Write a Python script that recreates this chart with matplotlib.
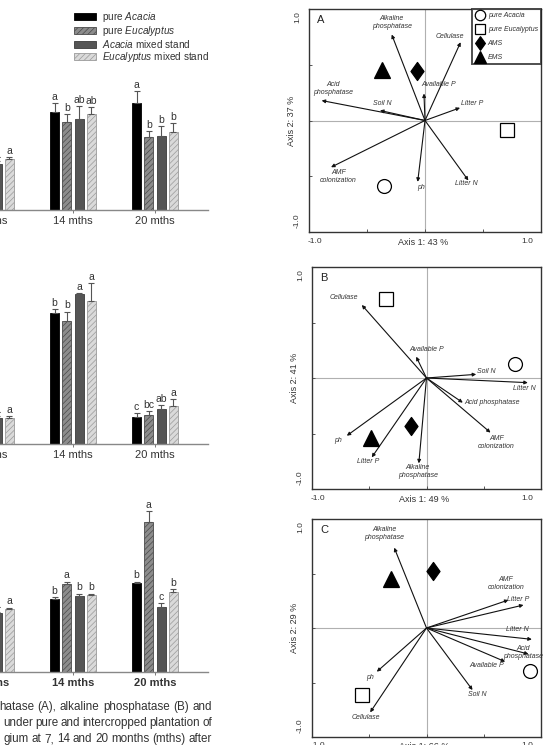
import matplotlib
matplotlib.use("Agg")
import matplotlib.pyplot as plt
import numpy as np
from matplotlib.lines import Line2D
from matplotlib.path import Path

plt.rcParams['font.family'] = ['Liberation Sans', 'DejaVu Sans']
plt.rcParams['mathtext.fontset'] = 'custom'
plt.rcParams['mathtext.rm'] = 'Liberation Sans'
plt.rcParams['mathtext.it'] = 'Liberation Sans:italic'
plt.rcParams['hatch.linewidth'] = 0.5

W, H = 543, 745
fig = plt.figure(figsize=(W / 100, H / 100), dpi=100)

# ---------------- bar chart data ----------------
groups = ['7 mths', '14 mths', '20 mths']
series = [r'pure $\mathit{Acacia}$', r'pure $\mathit{Eucalyptus}$',
          r'$\mathit{Acacia}$ mixed stand', r'$\mathit{Eucalyptus}$ mixed stand']

# panel A (acid phosphatase) - rows: groups, cols: series
acid_vals = [[48, 44, 46, 51], [98, 88, 91, 96], [107, 73, 74, 78]]
acid_err = [[3, 3, 3, 2], [9, 8, 13, 7], [12, 6, 10, 9]]
acid_let = [['a', 'a', 'a', 'a'], ['a', 'b', 'ab', 'ab'], ['a', 'b', 'b', 'b']]

# panel B (alkaline phosphatase)
alk_vals = [[27, 27, 26, 26], [131, 123, 150, 143], [27, 29, 35, 38]]
alk_err = [[2, 2, 2, 2], [4, 9, 1, 18], [4, 4, 4, 7]]
alk_let = [['a', 'a', 'a', 'a'], ['b', 'b', 'a', 'a'], ['c', 'bc', 'ab', 'a']]

# panel C (cellulase)
cel_vals = [[60, 62, 59, 63], [73, 88, 76, 77], [89, 150, 65, 80]]
cel_err = [[1, 1, 1, 1], [2, 2, 2, 1], [1, 11, 4, 3]]
cel_let = [['a', 'a', 'a', 'a'], ['b', 'a', 'b', 'b'], ['b', 'a', 'c', 'b']]

face = ['#000000', '#8c8c8c', '#555555', '#dadada']
edge = ['#000000', '#4a4a4a', '#3a3a3a', '#9a9a9a']
hatch = [None, '//////', None, '//////']

def bar_panel(rect, vals, errs, lets, ymax, bold=False):
    ax = fig.add_axes(rect)
    vals = np.array(vals, float)
    errs = np.array(errs, float)
    x = np.arange(len(groups))
    off = 0.15
    bw = 0.11
    handles = []
    for j in range(4):
        pos = x + (j - 1.5) * off
        b = ax.bar(pos, vals[:, j], bw, color=face[j], edgecolor=edge[j],
                   hatch=hatch[j], linewidth=0.6, label=series[j], zorder=2)
        handles.append(b)
        ax.errorbar(pos, vals[:, j], yerr=[np.zeros(len(x)), errs[:, j]],
                    fmt='none', ecolor='#555555', elinewidth=0.8, capsize=2.5,
                    capthick=0.8, zorder=3)
        for i in range(len(x)):
            ax.text(pos[i], vals[i, j] + errs[i, j] + 1.5, lets[i][j],
                    ha='center', va='bottom', fontsize=7.5, color='#333333')
    ax.set_xlim(-0.646, 2.646)
    ax.set_ylim(0, ymax)
    for s in ['left', 'right', 'top']:
        ax.spines[s].set_visible(False)
    ax.spines['bottom'].set_color('#888888')
    ax.spines['bottom'].set_linewidth(1.0)
    ax.set_yticks([])
    ax.set_xticks(x)
    ax.set_xticklabels(groups, fontsize=8, color='#333333',
                       fontweight='bold' if bold else 'normal')
    ax.tick_params(axis='x', length=2.5, width=0.7, color='#777777', pad=2)
    ax.patch.set_alpha(0)
    return ax, handles

axA, hA = bar_panel([-62 / W, 1 - 210 / H, 270 / W, 140 / H], acid_vals, acid_err, acid_let, 140)
axB, _ = bar_panel([-62 / W, 1 - 444 / H, 270 / W, 174 / H], alk_vals, alk_err, alk_let, 174)
axC, _ = bar_panel([-62 / W, 1 - 672 / H, 270 / W, 172 / H], cel_vals, cel_err, cel_let, 172, bold=True)

fig.legend(handles=hA, labels=series, loc='upper left',
           bbox_to_anchor=(74 / W, 1 - 10 / H), frameon=False, fontsize=7.2,
           handlelength=2.2, handleheight=0.65, labelspacing=0.0,
           handletextpad=0.6, borderaxespad=0, borderpad=0,
           labelcolor='#333333')

# ---------------- caption (justified) ----------------
caption = ['hatase (A), alkaline phosphatase (B) and',
           'under pure and intercropped plantation of',
           'gium at 7, 14 and 20 months (mths) after']
cap_y = [707, 723, 739]
cap_x0 = [-1, 3, 3]
cap_x1 = 212
renderer = fig.canvas.get_renderer()
for line, yy, x0 in zip(caption, cap_y, cap_x0):
    words = line.split(' ')
    texts = [fig.text(0, 1 - yy / H, w, va='center', ha='left', fontsize=8.4,
                      color='#333333',
                      family=['Liberation Sans Narrow', 'Liberation Sans'])
             for w in words]
    widths = [t.get_window_extent(renderer).width for t in texts]
    gap = max((cap_x1 - x0 - sum(widths)) / (len(words) - 1), 2.0)
    xx = x0
    for t, w in zip(texts, widths):
        t.set_x(xx / W)
        xx += w + gap

# ---------------- biplots ----------------
diamond = Path([(0, 1), (0.72, 0), (0, -1), (-0.72, 0), (0, 1)],
               [Path.MOVETO, Path.LINETO, Path.LINETO, Path.LINETO, Path.CLOSEPOLY])

site_names = ['pure Acacia', 'pure Eucalyptus', 'AMS', 'EMS']
site_markers = ['o', 's', diamond, '^']
site_face = ['white', 'white', 'black', 'black']
site_ms = [10, 10, 13, 12]

varsA = ['Alkaline\nphosphatase', 'Cellulase', 'Available P', 'Acid\nphosphatase', 'Soil N',
         'Litter P', 'AMF\ncolonization', 'ph', 'Litter N']
arrA_x = [-0.287, 0.307, -0.009, -0.891, -0.388, 0.302, -0.81, -0.063, 0.374]
arrA_y = [0.771, 0.702, 0.242, 0.179, 0.09, 0.114, -0.419, -0.55, -0.538]
labA_x = [-0.287, 0.21, 0.12, -0.79, -0.365, 0.41, -0.747, -0.034, 0.36]
labA_y = [0.882, 0.75, 0.32, 0.284, 0.152, 0.152, -0.5, -0.598, -0.568]
siteA_x = [-0.353, 0.704, -0.072, -0.368]
siteA_y = [-0.589, -0.087, 0.448, 0.457]

varsB = ['Cellulase', 'Available P', 'Soil N', 'Litter N', 'Acid phosphatase',
         'AMF\ncolonization', 'ph', 'Litter P', 'Alkaline\nphosphatase']
arrB_x = [-0.565, -0.09, 0.434, 0.885, 0.317, 0.559, -0.696, -0.478, -0.067]
arrB_y = [0.658, 0.192, 0.033, -0.042, -0.222, -0.492, -0.52, -0.715, -0.769]
labB_x = [-0.725, -0.003, 0.521, 0.856, 0.574, 0.609, -0.775, -0.512, -0.076]
labB_y = [0.723, 0.261, 0.057, -0.093, -0.222, -0.583, -0.559, -0.754, -0.838]
siteB_x = [0.777, -0.352, -0.134, -0.483]
siteB_y = [0.126, 0.709, -0.432, -0.543]

varsC = ['Alkaline\nphosphatase', 'AMF\ncolonization', 'Litter P', 'Litter N',
         'Acid\nphosphatase', 'Available P', 'Soil N', 'ph', 'Cellulase']
arrC_x = [-0.282, 0.716, 0.847, 0.92, 0.891, 0.687, 0.402, -0.434, -0.492]
arrC_y = [0.737, 0.257, 0.211, -0.104, -0.239, -0.309, -0.569, -0.401, -0.774]
labC_x = [-0.367, 0.696, 0.803, 0.797, 0.847, 0.527, 0.44, -0.492, -0.527]
labC_y = [0.869, 0.41, 0.266, -0.012, -0.226, -0.346, -0.608, -0.456, -0.82]
siteC_x = [0.906, -0.565, 0.055, -0.312]
siteC_y = [-0.394, -0.615, 0.523, 0.447]


def biplot(rect, letter, ax1, ax2, names, ax_, ay_, lx, ly, sx, sy, legend=False):
    ax = fig.add_axes(rect)
    ax.set_xlim(-1, 1)
    ax.set_ylim(-1, 1)
    ax.axhline(0, color='#b0b0b0', lw=0.8, zorder=1)
    ax.axvline(0, color='#b0b0b0', lw=0.8, zorder=1)
    for n, x, y, tx, ty in zip(names, ax_, ay_, lx, ly):
        ax.annotate('', xy=(x, y), xytext=(0, 0),
                    arrowprops=dict(arrowstyle='-|>', lw=0.8, color='#111111',
                                    mutation_scale=5, shrinkA=0, shrinkB=0), zorder=3)
        ax.text(tx, ty, n, ha='center', va='center', fontsize=5, style='italic',
                color='#333333', linespacing=1.2, zorder=4)
    for i in range(4):
        ax.plot(sx[i], sy[i], linestyle='none', marker=site_markers[i],
                ms=site_ms[i], mfc=site_face[i], mec='black', mew=0.9, zorder=5)
    for s in ax.spines.values():
        s.set_color('#333333')
        s.set_linewidth(1.0)
    ax.set_xticks([-1, -0.5, 0, 0.5, 1])
    ax.set_yticks([-1, -0.5, 0, 0.5, 1])
    ax.set_xticklabels([])
    ax.set_yticklabels([])
    ax.tick_params(direction='in', length=2.5, width=0.7, color='#555555')
    ax.text(-0.95, -1.05, '-1.0', ha='center', va='top', fontsize=6, color='#333333')
    ax.text(0.88, -1.05, '1.0', ha='center', va='top', fontsize=6, color='#333333')
    ax.text(-0.02, -1.05, ax1, ha='center', va='top', fontsize=6.5, color='#333333')
    ax.text(-1.07, 0.93, '1.0', ha='right', va='center', rotation=90, fontsize=6, color='#333333')
    ax.text(-1.07, -0.9, '-1.0', ha='right', va='center', rotation=90, fontsize=6, color='#333333')
    ax.text(-1.11, 0.0, ax2, ha='right', va='center', rotation=90, fontsize=6.5, color='#333333')
    ax.text(-0.93, 0.9, letter, ha='left', va='center', fontsize=8, color='#222222')
    if legend:
        hs = [Line2D([], [], linestyle='none', marker=site_markers[i], ms=site_ms[i] * 0.75,
                     mfc=site_face[i], mec='black', mew=0.9) for i in range(4)]
        leg = ax.legend(hs, site_names, loc='upper right', bbox_to_anchor=(1.0, 1.0),
                        borderaxespad=0, frameon=True, fancybox=False,
                        handlelength=1.4, handletextpad=0.35, labelspacing=1.0,
                        borderpad=0.45, prop={'style': 'italic', 'size': 5})
        leg.get_frame().set_edgecolor('#222222')
        leg.get_frame().set_linewidth(1.4)
        for t in leg.get_texts():
            t.set_color('#333333')
    return ax


biplot([309 / W, 1 - 232 / H, 232 / W, 223 / H], 'A', 'Axis 1: 43 %', 'Axis 2: 37 %',
       varsA, arrA_x, arrA_y, labA_x, labA_y, siteA_x, siteA_y, legend=True)
biplot([312 / W, 1 - 489 / H, 229 / W, 222 / H], 'B', 'Axis 1: 49 %', 'Axis 2: 41 %',
       varsB, arrB_x, arrB_y, labB_x, labB_y, siteB_x, siteB_y)
biplot([312 / W, 1 - 737 / H, 229 / W, 218 / H], 'C', 'Axis 1: 66 %', 'Axis 2: 29 %',
       varsC, arrC_x, arrC_y, labC_x, labC_y, siteC_x, siteC_y)

fig.savefig('out.png', dpi=100)
